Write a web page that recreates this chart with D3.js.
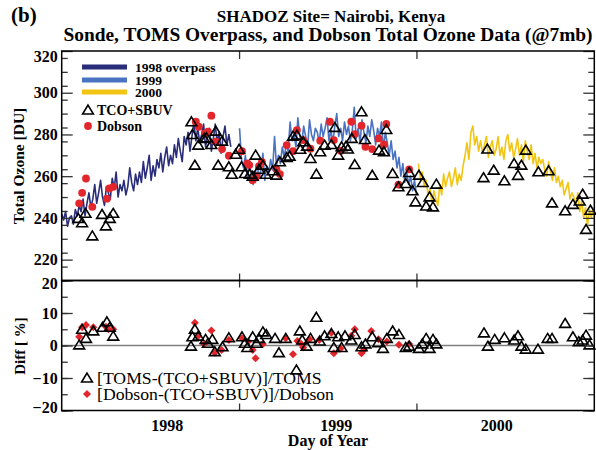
<!DOCTYPE html>
<html><head><meta charset="utf-8">
<script src="https://cdn.jsdelivr.net/npm/d3@7/dist/d3.min.js"></script>
<style>body{margin:0;background:#fff} svg{display:block} text{font-family:"Liberation Serif","Times New Roman",Times,serif}</style>
</head><body><svg id="c" width="596" height="450"></svg>
<script>
// ---------- data ----------
const yearTickDays = [365, 730];
const yearLabels = ["1998", "1999", "2000"];
const yearLabelDays = [216, 564, 894];
const ozoneTicks = [220, 240, 260, 280, 300, 320];
const diffTicks = [-20, -10, 0, 10, 20];
const seriesNames = ["1998 overpass", "1999", "2000"];
const seriesColors = ["#2a2d7a", "#4a72c2", "#f2c514"];
const overpassStep = 4;
const start1998 = 0, start1999 = 366, start2000 = 734;
const overpass1998 = [
 242,239,243,236,240,241,237,244,
 241,246,243,249,241,247,252,245,
 249,256,247,252,258,250,246,255,
 252,249,259,254,262,250,256,253,
 258,251,255,264,257,253,261,256,
 262,257,267,259,264,270,258,265,
 260,268,264,271,262,269,274,265,
 270,266,275,269,278,272,267,279,
 275,281,272,279,286,277,283,276,
 280,285,274,279,283,272,278,285,
 276,281,271,279,284,275,280,274];
const overpass1999 = [
 283,268,264,270,259,265,262,256,
 261,266,259,263,271,258,265,262,
 268,263,279,265,270,266,274,269,
 275,272,286,277,280,274,288,279,
 276,284,279,274,287,280,277,283,
 281,276,285,279,283,288,277,282,
 276,284,290,279,283,277,286,280,
 284,277,282,293,278,283,276,287,
 281,276,284,279,287,282,275,283,
 279,286,273,281,276,270,277,268,
 272,264,269,260,266,257,262,256,
 260,253,258,251];
const overpass2000 = [
 266,259,262,255,258,251,254,247,
 253,249,246,256,251,261,255,259,
 262,255,259,264,256,261,258,265,
 270,276,268,281,284,275,279,272,
 277,271,275,279,269,274,277,270,
 273,279,270,274,268,277,280,272,
 276,269,273,278,270,275,267,277,
 272,268,275,266,271,264,269,266,
 268,263,260,267,262,258,264,257,
 260,255,258,251,254,257,249,252,
 250,246,252,243,248,240,245,236,
 244,240,245];
const tcoDays = [34,42,49,63,83,91,99,106,267,269,274,281,293,298,308,317,322,330,344,350,
 358,365,370,377,387,393,399,406,414,420,434,442,449,463,469,476,484,491,497,505,512,524,532,541,
 555,562,569,576,585,589,597,603,617,624,639,653,663,668,681,693,708,715,722,728,
 735,743,750,757,764,771,868,876,889,911,931,939,946,955,981,1002,1009,1036,1052,1066,1072,1079,1088];
const tcoValues = [239.8,237.7,242.2,231.4,241.7,236.2,239.8,242.2,286.1,280,265.3,274.9,278.1,278.4,275.2,281.6,265.3,276.8,264.5,260.9,
 270.5,272.9,264.5,261.3,260.9,260,270.1,263.3,265.3,260.9,262.6,260.5,266.9,269,269.6,279.2,279.7,272.9,276.5,274.4,268.5,261,271.7,274.9,
 275.2,283.4,270.1,274.1,274.4,273,278.1,265.6,290.9,277.6,260.5,272.5,271.7,282.4,261.3,254.9,256.5,261.8,253,247.7,
 260.5,257,245.7,250.1,245.3,256.2,259.3,273,262.9,257.8,266.1,260.4,265.3,272.5,262.1,262.6,247.2,243.4,246.5,248.1,251.4,234.5,243.7];
const dobsonDays = [36,42,50,63,93,98,106,276,282,295,301,308,317,330,344,371,382,386,393,401,406,412,442,449,463,476,484,497,512,532,552,560,574,596,603,617,625,639,652,663,668,693,715];
const dobsonValues = [247,252,258.9,245.3,249.2,254.1,254.9,286.1,283.7,280.5,281.3,289,276.5,273,269.8,272,266.1,265.3,258.1,260,264.8,266.9,263.3,261,274.9,272,282.1,277.3,273.2,277,286.1,277.3,272.2,286.1,280.2,284.2,274.1,273,278.1,275.2,285,256,263.3];
const diffTomsDays = [36,42,50,65,84,93,99,106,266,269,274,281,296,301,310,315,331,344,371,377,382,393,401,406,414,421,439,447,461,483,490,495,504,512,524,531,
 541,555,560,569,576,583,596,603,617,625,639,651,661,669,681,694,708,715,735,742,750,757,764,771,869,877,891,911,931,939,946,955,980,1000,1009,1036,1052,1064,1072,1079,1086];
const diffTomsValues = [0.2,5,2.2,4.5,5.6,7.3,5.6,2.9,-0.2,2.7,5,2.9,1.9,0.7,1.9,-1.9,-0.4,2.4,2.7,0.7,-0.6,2.7,0.7,2.2,4.2,3.4,2.2,-2.2,2.2,-7.5,4.5,1.7,-0.2,2.2,8.7,1.4,
 3,3.7,-0.6,2.7,-0.6,3,1.7,3.4,-0.4,0.5,2.7,0.9,-0.9,2.2,4.5,3.4,-0.6,-0.2,-0.9,0.5,2.2,-0.9,1.9,0.5,3.9,-0.2,1.9,2.4,1.7,3,-0.2,-1.1,-1.1,2.2,2.2,6.8,2.7,1.2,1.7,3.2,0.2];
const diffDobsonDays = [36,42,50,65,91,96,106,274,281,293,308,315,329,344,371,384,393,399,414,461,476,485,493,497,510,530,555,560,574,596,603,617,622,637,652,669,694,715];
const diffDobsonValues = [2.7,5.6,6.3,5.6,5.8,5,5,7,2.9,0.5,4.6,-2.2,-1.4,1.7,2.2,1.2,-1.4,-3.9,0.5,2.2,-2.7,1.4,0.5,-0.6,1.9,1.7,3.9,-2.4,-0.9,3,5,-2.4,-1.4,4.5,1.9,1.2,0.2,0.5];

// ---------- drawing ----------
const svg = d3.select("#c");
const L = 61.7, R = 594.3, T1 = 51, B1 = 280.5, B2 = 410.5;
const x = d3.scaleLinear().domain([0, 1096]).range([L, R]);
const yT = d3.scaleLinear().domain([210, 320]).range([B1, T1]);
const yB = d3.scaleLinear().domain([-20, 20]).range([B2, B1]);
const red = "#e2262b";
const triPath = "M0,-4.9L5.4,4L-5.4,4Z";
const diaPath = "M0,-4L4,0L0,4L-4,0Z";

// titles
svg.append("text").attr("x", 11).attr("y", 22).attr("font-size", 21).attr("font-weight", "bold").text("(b)");
svg.append("text").attr("x", 331).attr("y", 22).attr("text-anchor", "middle").attr("font-size", 17).attr("font-weight", "bold").text("SHADOZ Site= Nairobi, Kenya");
svg.append("text").attr("x", 328).attr("y", 41).attr("text-anchor", "middle").attr("font-size", 19.4).attr("font-weight", "bold").text("Sonde, TOMS Overpass, and Dobson Total Ozone Data (@7mb)");

// overpass lines
const series = [[overpass1998, start1998], [overpass1999, start1999], [overpass2000, start2000]];
series.forEach((s, k) => {
  const line = d3.line().x((d, i) => x(s[1] + i * overpassStep)).y(d => yT(d));
  svg.append("path").datum(s[0]).attr("d", line).attr("fill", "none")
    .attr("stroke", seriesColors[k]).attr("stroke-width", 1.6).attr("stroke-linejoin", "round");
});

// Dobson circles
svg.append("g").selectAll("circle").data(dobsonDays).join("circle")
  .attr("cx", d => x(d)).attr("cy", (d, i) => yT(dobsonValues[i])).attr("r", 3.9).attr("fill", red);
// TCO triangles
svg.append("g").selectAll("path").data(tcoDays).join("path")
  .attr("d", triPath).attr("transform", (d, i) => `translate(${x(d)},${yT(tcoValues[i])})`)
  .attr("fill", "none").attr("stroke", "#000").attr("stroke-width", 1.6);

// zero line bottom
svg.append("line").attr("x1", L).attr("x2", R).attr("y1", yB(0)).attr("y2", yB(0)).attr("stroke", "#808080").attr("stroke-width", 1.5);

// diff markers
svg.append("g").selectAll("path").data(diffDobsonDays).join("path")
  .attr("d", diaPath).attr("transform", (d, i) => `translate(${x(d)},${yB(diffDobsonValues[i])})`).attr("fill", red);
svg.append("g").selectAll("path").data(diffTomsDays).join("path")
  .attr("d", triPath).attr("transform", (d, i) => `translate(${x(d)},${yB(diffTomsValues[i])})`)
  .attr("fill", "none").attr("stroke", "#000").attr("stroke-width", 1.6);

// axes
function styleAxis(g) { g.select(".domain").remove(); g.selectAll(".tick line").attr("stroke", "#333").attr("stroke-width", 1.3);
  g.selectAll("text").attr("font-size", 16).attr("font-weight", "bold").attr("fill", "#000").attr("font-family", '"Liberation Serif","Times New Roman",serif'); }
const minorTop = d3.range(210, 320.01, 20 / 3);
const minorBot = d3.range(-20, 20.01, 5);
// top panel
svg.append("g").attr("transform", `translate(${L},0)`).call(d3.axisLeft(yT).tickValues(ozoneTicks).tickSize(-11).tickPadding(4)).call(styleAxis);
svg.append("g").attr("transform", `translate(${L},0)`).call(d3.axisLeft(yT).tickValues(minorTop).tickSize(-6).tickFormat("")).call(styleAxis);
svg.append("g").attr("transform", `translate(${R},0)`).call(d3.axisRight(yT).tickValues(ozoneTicks).tickSize(-11).tickFormat("")).call(styleAxis);
svg.append("g").attr("transform", `translate(${R},0)`).call(d3.axisRight(yT).tickValues(minorTop).tickSize(-6).tickFormat("")).call(styleAxis);
svg.append("g").attr("transform", `translate(0,${T1})`).call(d3.axisTop(x).tickValues(yearTickDays).tickSize(-8).tickFormat("")).call(styleAxis);
svg.append("g").attr("transform", `translate(0,${B1})`).call(d3.axisBottom(x).tickValues(yearTickDays).tickSize(-7).tickFormat("")).call(styleAxis);
// bottom panel
svg.append("g").attr("transform", `translate(${L},0)`).call(d3.axisLeft(yB).tickValues(diffTicks).tickSize(-11).tickPadding(4)).call(styleAxis);
svg.append("g").attr("transform", `translate(${L},0)`).call(d3.axisLeft(yB).tickValues(minorBot).tickSize(-6).tickFormat("")).call(styleAxis);
svg.append("g").attr("transform", `translate(${R},0)`).call(d3.axisRight(yB).tickValues(diffTicks).tickSize(-11).tickFormat("")).call(styleAxis);
svg.append("g").attr("transform", `translate(${R},0)`).call(d3.axisRight(yB).tickValues(minorBot).tickSize(-6).tickFormat("")).call(styleAxis);
svg.append("g").attr("transform", `translate(0,${B1})`).call(d3.axisTop(x).tickValues(yearTickDays).tickSize(-7).tickFormat("")).call(styleAxis);
svg.append("g").attr("transform", `translate(0,${B2})`).call(d3.axisBottom(x).tickValues(yearTickDays).tickSize(-7).tickFormat("")).call(styleAxis);
svg.append("g").attr("transform", `translate(0,${B2})`)
  .call(d3.axisBottom(x).tickValues(yearLabelDays).tickSize(0).tickPadding(9).tickFormat((d, i) => yearLabels[i])).call(styleAxis);

// nudge end labels inward like the reference
svg.selectAll(".tick text").filter(function(){ return this.textContent === "320"; }).attr("transform", "translate(0,5)");
svg.selectAll(".tick text").filter(function(){ return this.textContent === "20"; }).attr("transform", "translate(0,2.5)");
svg.selectAll(".tick text").filter(function(){ return this.textContent === "−20"; }).attr("transform", "translate(0,-3.5)");

// frames
svg.append("rect").attr("x", L).attr("y", T1).attr("width", R - L).attr("height", B1 - T1).attr("fill", "none").attr("stroke", "#000").attr("stroke-width", 1.5);
svg.append("rect").attr("x", L).attr("y", B1).attr("width", R - L).attr("height", B2 - B1).attr("fill", "none").attr("stroke", "#000").attr("stroke-width", 1.5);

// axis titles
svg.append("text").attr("transform", "translate(24,166) rotate(-90)").attr("text-anchor", "middle").attr("font-size", 15.5).attr("font-weight", "bold").text("Total Ozone [DU]");
svg.append("text").attr("transform", "translate(25,346) rotate(-90)").attr("text-anchor", "middle").attr("font-size", 15).attr("font-weight", "bold").text("Diff [ %]");
svg.append("text").attr("x", 328).attr("y", 446).attr("text-anchor", "middle").attr("font-size", 16).attr("font-weight", "bold").text("Day of Year");

// top legend
const lg = svg.append("g");
const legY = [67, 80, 92];
seriesNames.forEach((n, k) => {
  lg.append("line").attr("x1", 82).attr("x2", 127).attr("y1", legY[k]).attr("y2", legY[k]).attr("stroke", seriesColors[k]).attr("stroke-width", 5);
  lg.append("text").attr("x", 135).attr("y", legY[k] + 4.5).attr("font-size", 13.5).attr("font-weight", "bold").text(n);
});
lg.append("path").attr("d", triPath).attr("transform", "translate(88,110)").attr("fill", "none").attr("stroke", "#000").attr("stroke-width", 1.6);
lg.append("text").attr("x", 97).attr("y", 115).attr("font-size", 14).attr("font-weight", "bold").text("TCO+SBUV");
lg.append("circle").attr("cx", 88).attr("cy", 126).attr("r", 3.9).attr("fill", red);
lg.append("text").attr("x", 97).attr("y", 131).attr("font-size", 14).attr("font-weight", "bold").text("Dobson");

// bottom legend
lg.append("path").attr("d", triPath).attr("transform", "translate(87,378)").attr("fill", "none").attr("stroke", "#000").attr("stroke-width", 1.6);
lg.append("text").attr("x", 97).attr("y", 384).attr("font-size", 17.7).text("[TOMS-(TCO+SBUV)]/TOMS");
lg.append("path").attr("d", diaPath).attr("transform", "translate(87,394)").attr("fill", red);
lg.append("text").attr("x", 97).attr("y", 400).attr("font-size", 17.7).text("[Dobson-(TCO+SBUV)]/Dobson");
</script></body></html>
